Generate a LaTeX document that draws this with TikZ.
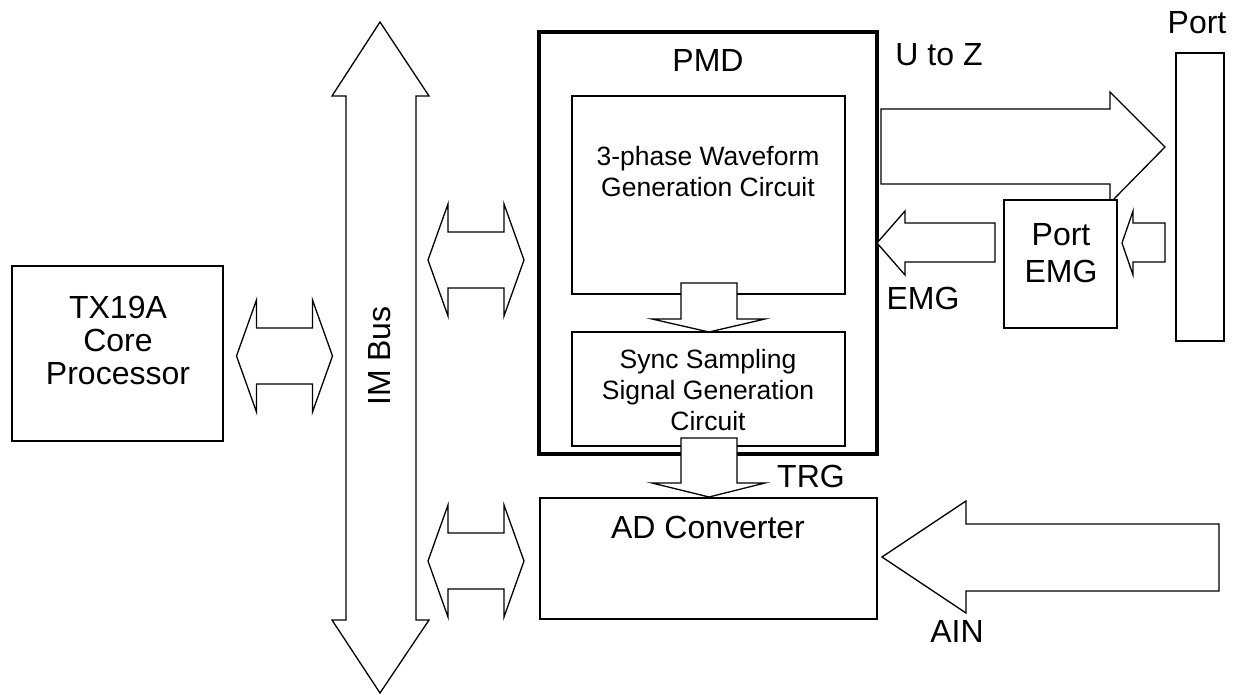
\documentclass[tikz,border=0pt]{standalone}
\usepackage{fontspec}
\setmainfont{Liberation Sans}
\usepackage{tikz}

\begin{document}
\begin{tikzpicture}[x=1pt,y=-1pt,line width=1.3pt,
    box/.style={draw,rectangle,fill=white,inner sep=0pt,outer sep=0pt},
    blockarrow/.style={draw,fill=white,line join=miter},
    big/.style={font=\fontsize{32}{33}\selectfont,align=center},
    small/.style={font=\fontsize{26.5}{31}\selectfont,align=center}]
    \useasboundingbox (0,0) rectangle (1236,695);

    \node[box,minimum width=211pt,minimum height=175pt] (cpu) at (117.5,353.5) {};
    \node[big] (cputext) at (118,340) {TX19A\\Core\\Processor};

    \draw[blockarrow] (380,22) -- (429,96) -- (416,96) -- (416,620) -- (429,620) -- (380,693)
        -- (332,620) -- (346,620) -- (346,96) -- (332,96) -- cycle;
    \node[big,rotate=90] (imbus) at (380,356) {IM Bus};

    \foreach \cx/\cy in {284.5/356,476/260,476/561} {
        \begin{scope}[shift={(\cx,\cy)}]
            \draw[blockarrow] (-48,0) -- (-28,-56) -- (-28,-28) -- (28,-28) -- (28,-56) -- (48,0)
                -- (28,56) -- (28,28) -- (-28,28) -- (-28,56) -- cycle;
        \end{scope}
    }

    \node[box,line width=3.5pt,minimum width=338pt,minimum height=422pt] (pmd) at (708,243) {};
    \node[big] (pmdtext) at (708,60) {PMD};
    \node[box,minimum width=273pt,minimum height=198pt] (wave) at (708.5,195) {};
    \node[small] (wavetext) at (708,172) {3-phase Waveform\\Generation Circuit};
    \node[box,minimum width=273pt,minimum height=114pt] (sync) at (708.5,389) {};
    \node[small] (synctext) at (708,390) {Sync Sampling\\Signal Generation\\Circuit};

    \draw[blockarrow] (681,283) -- (737,283) -- (737,319) -- (765,319) -- (709,332)
        -- (652,319) -- (681,319) -- cycle;
    \draw[blockarrow] (681,438) -- (737,438) -- (737,483) -- (765,483) -- (709,497)
        -- (652,483) -- (681,483) -- cycle;
    \node[big] (trg) at (811,476) {TRG};

    \node[box,minimum width=337pt,minimum height=121pt] (adc) at (708.5,558.5) {};
    \node[big] (adctext) at (708,527) {AD Converter};

    \draw[blockarrow] (882,557) -- (966,501) -- (966,524) -- (1219,524) -- (1219,591)
        -- (966,591) -- (966,613) -- cycle;
    \node[big] (ain) at (957,631) {AIN};

    \node[box,minimum width=48pt,minimum height=288pt] (port) at (1200,197) {};
    \node[big] (porttext) at (1197,23) {Port};
    \node[big] (utoz) at (939,55) {U to Z};
    \draw[blockarrow] (881,109) -- (1110,109) -- (1110,92) -- (1165,147) -- (1110,203)
        -- (1110,184) -- (881,184) -- cycle;

    \node[box,minimum width=113pt,minimum height=128pt] (portemg) at (1060.5,264) {};
    \node[big,font=\fontsize{32}{37}\selectfont] (portemgtext) at (1061,253) {Port\\EMG};

    \draw[blockarrow] (877,243) -- (905,211) -- (905,223) -- (995,223) -- (995,262)
        -- (905,262) -- (905,275) -- cycle;
    \node[big] (emg) at (923,298) {EMG};
    \draw[blockarrow] (1122,243) -- (1133,211) -- (1133,223) -- (1165,223) -- (1165,262)
        -- (1133,262) -- (1133,275) -- cycle;
\end{tikzpicture}
\end{document}
